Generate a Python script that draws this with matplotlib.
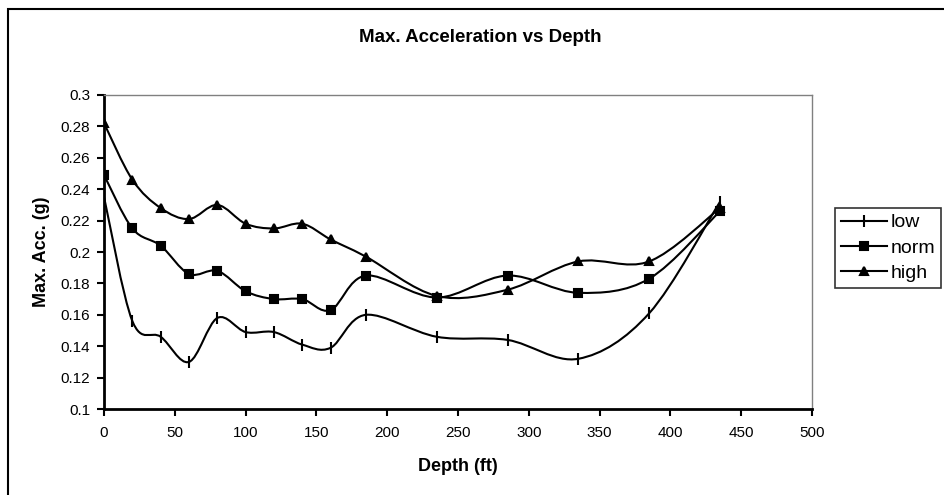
import numpy as np
import matplotlib
matplotlib.use("Agg")
import matplotlib.pyplot as plt
from matplotlib.path import Path
from matplotlib.patches import PathPatch, Rectangle
from matplotlib.lines import Line2D

plt.rcParams['font.family'] = ['Liberation Sans', 'DejaVu Sans']

depth = [0, 20, 40, 60, 80, 100, 120, 140, 160, 185, 235, 285, 335, 385, 435]
low = [0.235, 0.156, 0.146, 0.130, 0.158, 0.149, 0.149, 0.141, 0.139, 0.160,
       0.146, 0.144, 0.132, 0.161, 0.232]
norm = [0.249, 0.215, 0.204, 0.186, 0.188, 0.175, 0.170, 0.170, 0.163, 0.185,
        0.171, 0.185, 0.174, 0.183, 0.226]
high = [0.282, 0.246, 0.228, 0.221, 0.230, 0.218, 0.215, 0.218, 0.208, 0.197,
        0.172, 0.176, 0.194, 0.194, 0.228]


def smooth_path(x, y):
    # Excel-style smoothed line: cubic bezier through each point
    p = np.column_stack([x, y]).astype(float)
    ext = np.vstack([p[0], p, p[-1]])
    verts = [p[0]]
    codes = [Path.MOVETO]
    for i in range(len(p) - 1):
        p0, p1, p2, p3 = ext[i], ext[i + 1], ext[i + 2], ext[i + 3]
        c1 = p1 + (p2 - p0) / 6
        c2 = p2 - (p3 - p1) / 6
        verts += [c1, c2, p2]
        codes += [Path.CURVE4] * 3
    return Path(verts, codes)


fig = plt.figure(figsize=(9.45, 4.95), dpi=100)
ax = fig.add_axes([0.1101, 0.1737, 0.7492, 0.6344])

series = [("low", low, "|", 8), ("norm", norm, "s", 6), ("high", high, "^", 6)]
handles = []
for name, vals, mk, ms in series:
    ax.add_patch(PathPatch(smooth_path(depth, vals), fill=False,
                           edgecolor="black", lw=1.5, zorder=2))
    ax.plot(depth, vals, linestyle="none", marker=mk, markersize=ms,
            color="black", markeredgewidth=1.5, zorder=3)
    handles.append(Line2D([], [], color="black", lw=1.5, marker=mk,
                          markersize=ms, markeredgewidth=1.5, label=name))

ax.set_xlim(0, 500)
ax.set_ylim(0.1, 0.3)
ax.set_xticks(np.arange(0, 501, 50))
ax.set_yticks(np.arange(0.1, 0.301, 0.02))
ax.set_yticklabels(["0.1", "0.12", "0.14", "0.16", "0.18", "0.2", "0.22",
                    "0.24", "0.26", "0.28", "0.3"])
ax.tick_params(direction="out", length=5, width=1.5, labelsize=11, pad=5)
ax.tick_params(axis="x", pad=7)

ax.spines["left"].set_linewidth(2)
ax.spines["bottom"].set_linewidth(2)
for s in ["top", "right"]:
    ax.spines[s].set_color("#808080")
    ax.spines[s].set_linewidth(1)

ax.set_xlabel("Depth (ft)", fontsize=13, fontweight="bold")
ax.set_ylabel("Max. Acc. (g)", fontsize=13, fontweight="bold")
ax.xaxis.set_label_coords(0.5, -(466 - 409) / 314, transform=ax.transAxes)
ax.yaxis.set_label_coords(-(104 - 41.5) / 708, 0.5, transform=ax.transAxes)
ax.xaxis.label.set_va("center")
ax.yaxis.label.set_va("center")
fig.text(0.508, 1 - 38 / 495, "Max. Acceleration vs Depth", ha="center",
         va="center", fontsize=13.5, fontweight="bold")

leg = fig.legend(handles=handles, loc="upper left",
                 bbox_to_anchor=(835 / 945, 1 - 208 / 495), fontsize=14,
                 frameon=True, fancybox=False, edgecolor="black",
                 handlelength=2.4, handletextpad=0.15, borderpad=0.3,
                 labelspacing=0.4, borderaxespad=0)
leg.get_frame().set_linewidth(1.2)

fig.add_artist(Rectangle((8 / 945, -0.1), 1.2, 1 - 9 / 495 + 0.1,
                         transform=fig.transFigure, fill=False,
                         edgecolor="black", lw=1.5))

fig.savefig("out.png", dpi=100)
